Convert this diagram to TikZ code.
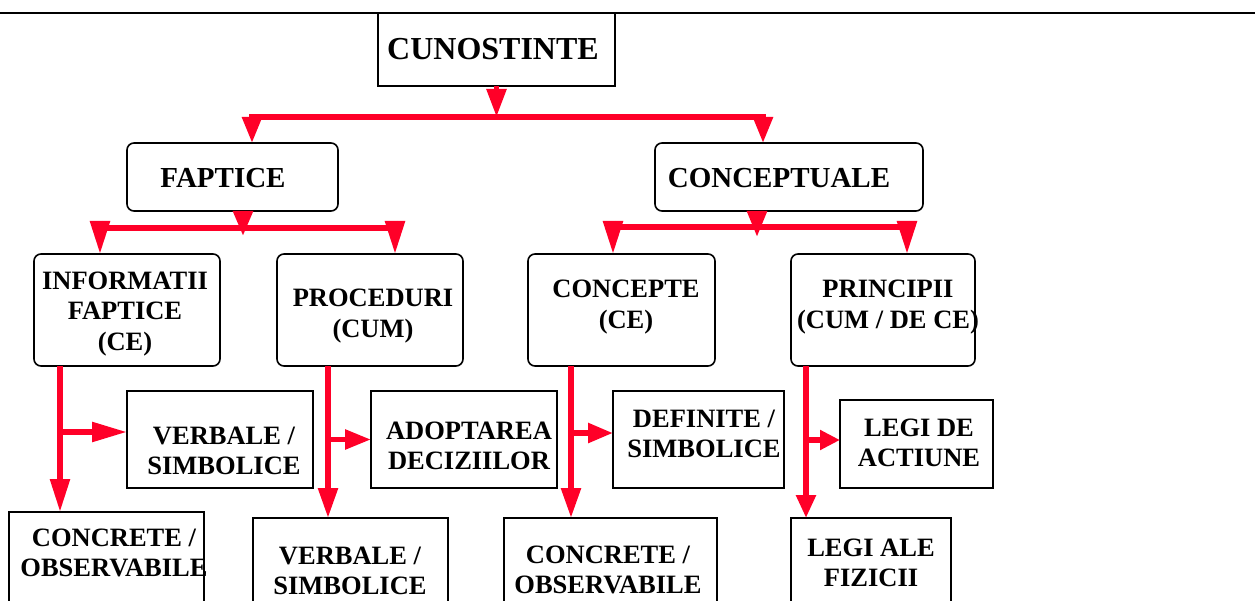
\documentclass[tikz,border=0pt]{standalone}
\usepackage{fontspec}
\setmainfont{Liberation Serif}
\usetikzlibrary{arrows.meta,calc}
\definecolor{ared}{RGB}{255,0,40}
\begin{document}
\begin{tikzpicture}[x=1pt,y=-1pt,
  box/.style={draw,line width=1.6pt,inner sep=0pt,outer sep=0pt},
  rbox/.style={box,rounded corners=7pt},
  txt/.style={align=center,inner sep=0pt,font=\bfseries\fontsize{26.5}{30.5}\selectfont},
  txtm/.style={align=center,inner sep=0pt,font=\bfseries\fontsize{29}{32}\selectfont},
  txtl/.style={align=center,inner sep=0pt,font=\bfseries\fontsize{32}{34}\selectfont},
  conn/.style={draw=ared,line width=5.5pt},
  hd/.style={-{Triangle[length=#1,width=19pt]}}
]
\useasboundingbox (0,0) rectangle (1255,601);
\clip (0,0) rectangle (1255,601);
% top rule
\coordinate (tl) at (0,13);
\coordinate (tr) at (1255,13);
\draw[line width=1.6pt] (tl) -- (tr);
% boxes
\node[box,minimum width=237pt,minimum height=73pt] (cun) at (496.5,49.5) {};
\node[rbox,minimum width=211pt,minimum height=68pt] (fap) at (232.5,177) {};
\node[rbox,minimum width=268pt,minimum height=68pt] (concl) at (789,177) {};
\node[rbox,minimum width=186pt,minimum height=112pt] (info) at (127,310) {};
\node[rbox,minimum width=186pt,minimum height=112pt] (proc) at (370,310) {};
\node[rbox,minimum width=187pt,minimum height=112pt] (cpt) at (621.5,310) {};
\node[rbox,minimum width=184pt,minimum height=112pt] (prin) at (883,310) {};
\node[box,minimum width=186pt,minimum height=97pt] (verb1) at (220,439.5) {};
\node[box,minimum width=186pt,minimum height=97pt] (adop) at (464,439.5) {};
\node[box,minimum width=171pt,minimum height=97pt] (def) at (698.5,439.5) {};
\node[box,minimum width=153pt,minimum height=88pt] (legd) at (916.5,444) {};
\node[box,minimum width=195pt,minimum height=138pt] (conc1) at (106.5,581) {};
\node[box,minimum width=195pt,minimum height=132pt] (verb2) at (350.5,584) {};
\node[box,minimum width=213pt,minimum height=132pt] (conc2) at (610.5,584) {};
\node[box,minimum width=160pt,minimum height=132pt] (legf) at (871,584) {};
% texts
\node[txtl] (t-cun) at (493,49) {CUNOSTINTE};
\node[txtm] (t-fap) at (223,178) {FAPTICE};
\node[txtm] (t-concl) at (779,178) {CONCEPTUALE};
\node[txt] (t-info) at (125,314) {INFORMATII\\FAPTICE\\(CE)};
\node[txt] (t-proc) at (373,316) {PROCEDURI\\(CUM)};
\node[txt] (t-cpt) at (626,307) {CONCEPTE\\(CE)};
\node[txt] (t-prin) at (888,307) {PRINCIPII\\(CUM / DE CE)};
\node[txt] (t-verb1) at (224,451) {VERBALE /\\SIMBOLICE};
\node[txt] (t-adop) at (469,446) {ADOPTAREA\\DECIZIILOR};
\node[txt] (t-def) at (704,434) {DEFINITE /\\SIMBOLICE};
\node[txt] (t-legd) at (919,443) {LEGI DE\\ACTIUNE};
\node[txt] (t-conc1) at (114,553) {CONCRETE /\\OBSERVABILE};
\node[txt] (t-verb2) at (350,571) {VERBALE /\\SIMBOLICE};
\node[txt] (t-conc2) at (608,570) {CONCRETE /\\OBSERVABILE};
\node[txt] (t-legf) at (871,563) {LEGI ALE\\FIZICII};
% level 1 connectors
\coordinate (j0) at ($(cun.south)+(0,31)$);
\draw[conn,hd=28pt] (cun.south) -- (j0);
\draw[conn,hd=26pt] (j0) -| ([xshift=19.5pt]fap.north);
\draw[conn,hd=26pt] (j0) -| ([xshift=-26pt]concl.north);
% level 2 : FAPTICE
\coordinate (f0) at ([xshift=10.5pt]fap.south);
\coordinate (j1) at ($(f0)+(0,17)$);
\coordinate (f1) at ($(f0)+(0,25)$);
\draw[conn,hd=25pt] (f0) -- (f1);
\draw[conn] ([xshift=-27pt]info.north |- j1) -- ([xshift=25pt]proc.north |- j1);
\draw[conn,hd=33pt] ([shift={(-27pt,33pt)}]info.north) -- ([xshift=-27pt]info.north);
\draw[conn,hd=33pt] ([shift={(25pt,33pt)}]proc.north) -- ([xshift=25pt]proc.north);
% level 2 : CONCEPTUALE
\coordinate (c0) at ([xshift=-32pt]concl.south);
\coordinate (j2) at ($(c0)+(0,16)$);
\coordinate (c1) at ($(c0)+(0,26)$);
\draw[conn,hd=26pt] (c0) -- (c1);
\draw[conn] ([xshift=-8.5pt]cpt.north |- j2) -- ([xshift=24pt]prin.north |- j2);
\draw[conn,hd=33pt] ([shift={(-8.5pt,33pt)}]cpt.north) -- ([xshift=-8.5pt]cpt.north);
\draw[conn,hd=33pt] ([shift={(24pt,33pt)}]prin.north) -- ([xshift=24pt]prin.north);
% level 3 : INFORMATII
\coordinate (v1) at ([xshift=-67pt]info.south);
\coordinate (b1) at ([yshift=7.5pt]verb1.west);
\draw[conn,hd=33pt] (v1) -- (v1 |- conc1.north);
\draw[conn,hd=35pt] (v1 |- b1) -- (b1);
% level 3 : PROCEDURI
\coordinate (v2) at ([xshift=-42pt]proc.south);
\draw[conn,hd=30pt] (v2) -- (v2 |- verb2.north);
\draw[conn,hd=26pt] (v2 |- adop.west) -- (adop.west);
% level 3 : CONCEPTE
\coordinate (v3) at ([xshift=-50.5pt]cpt.south);
\coordinate (b3) at ([yshift=6.5pt]def.west);
\draw[conn,hd=30pt] (v3) -- (v3 |- conc2.north);
\draw[conn,hd=25pt] (v3 |- b3) -- (b3);
% level 3 : PRINCIPII
\coordinate (v4) at ([xshift=-77pt]prin.south);
\coordinate (b4) at ([yshift=4pt]legd.west);
\draw[conn,hd=23pt] (v4) -- (v4 |- legf.north);
\draw[conn,hd=20pt] (v4 |- b4) -- (b4);
\end{tikzpicture}
\end{document}
